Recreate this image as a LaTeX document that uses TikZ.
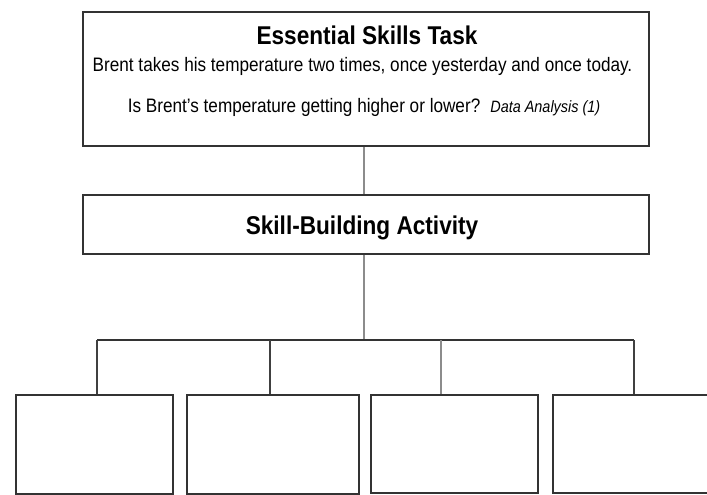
\documentclass[tikz,border=0pt]{standalone}
\usepackage{fontspec}
\setmainfont{Liberation Sans}[FakeStretch=0.88]
\begin{document}
\begin{tikzpicture}[x=1pt,y=-1pt,
  box/.style={draw=black!80,line width=1.7pt,fill=white,inner sep=0pt},
  conn/.style={draw=black!45,line width=1.4pt},
  busline/.style={draw=black!80,line width=1.6pt},
  drop/.style={draw=black!75,line width=1.4pt},
  titletext/.style={anchor=base,inner sep=0pt,font=\fontsize{25.7}{28}\selectfont\bfseries},
  bodytext/.style={anchor=base,inner sep=0pt,font=\fontsize{19.5}{22}\selectfont}]
\useasboundingbox (0,0) rectangle (707,495);
\clip (0,0) rectangle (707,495);
\fill[white] (0,0) rectangle (707,495);
% boxes
\node[box,minimum width=566pt,minimum height=134pt] (task) at (366,79) {};
\node[box,minimum width=566pt,minimum height=59pt] (act) at (366,224.5) {};
\node[box,minimum width=157pt,minimum height=99pt] (b1) at (94.5,444.5) {};
\node[box,minimum width=172pt,minimum height=99pt] (b2) at (273,444.5) {};
\node[box,minimum width=167pt,minimum height=98pt] (b3) at (454.5,444) {};
\node[box,minimum width=167pt,minimum height=98pt] (b4) at (636.5,444) {};
% texts
\node[titletext] (t1) at (367,45) {Essential Skills Task};
\node[bodytext] (t2) at (362.5,71) {Brent takes his temperature two times, once yesterday and once today.};
\node[bodytext] (t3) at (364,112.5) {Is Brent’s temperature getting higher or lower?\hspace{10pt}{\fontsize{16.4}{18}\selectfont\itshape Data Analysis (1)}};
\node[titletext] (t4) at (362,234) {Skill-Building Activity};
% connectors
\coordinate (bus) at (364,340);
\coordinate (c1) at (97,340);
\coordinate (c2) at (270,340);
\coordinate (c3) at (441,340);
\coordinate (c4) at (634,340);
\draw[conn] (task.south -| bus) -- (act.north -| bus);
\draw[conn] (act.south -| bus) -- (bus);
\draw[busline] (c1) -- (c4);
\draw[drop] (c1) -- (c1 |- b1.north);
\draw[drop] (c2) -- (c2 |- b2.north);
\draw[conn] (c3) -- (c3 |- b3.north);
\draw[drop] (c4) -- (c4 |- b4.north);
\end{tikzpicture}
\end{document}
